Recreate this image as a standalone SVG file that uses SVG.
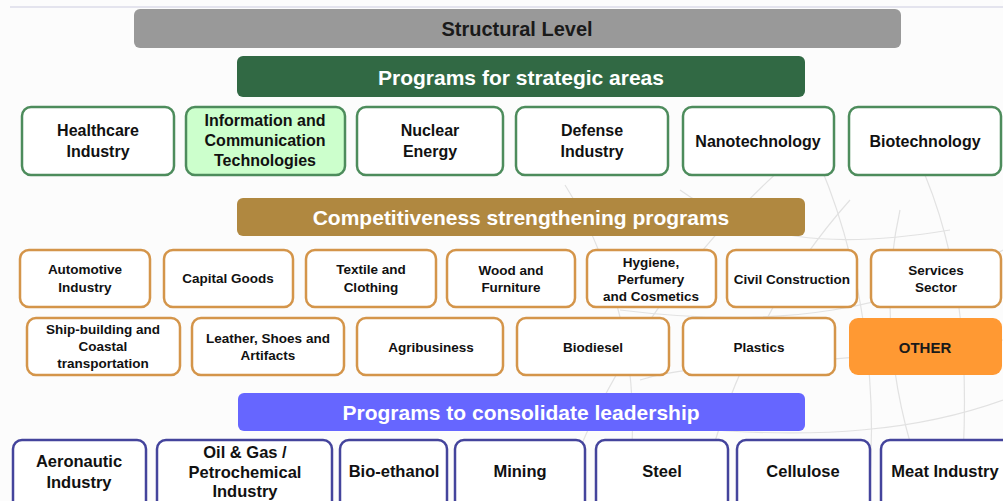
<svg xmlns="http://www.w3.org/2000/svg" width="1003" height="501" viewBox="0 0 1003 501">
<style>
.t{font-family:"Liberation Sans",Arial,sans-serif;font-weight:bold;text-anchor:middle;dominant-baseline:central}
.bar{font-size:21px;fill:#ffffff}
.g{fill:#ffffff;stroke:#4d8c5c;stroke-width:2.5}
.o{fill:#ffffff;stroke:#d4954a;stroke-width:2.5}
.b{fill:#ffffff;stroke:#44449c;stroke-width:2.5}
.l1{font-size:16px;fill:#111}
.l2{font-size:13.5px;fill:#111}
.l3{font-size:16.5px;fill:#111}
.wm{fill:none;stroke:#e2e2e2;stroke-width:1.2}
</style>
<rect x="0" y="0" width="1003" height="501" fill="#fcfcfc"/>
<line x1="10" y1="7" x2="1003" y2="7" stroke="#dcdcea" stroke-width="1.5"/>
<g id="watermark">
<path class="wm" d="M560,501 C600,380 680,260 780,170"/>
<path class="wm" d="M700,501 C720,400 770,290 850,200"/>
<path class="wm" d="M1003,250 C900,310 780,330 620,310"/>
<path class="wm" d="M1003,400 C920,430 820,440 690,428"/>
<path class="wm" d="M820,165 C860,260 880,380 868,501"/>
<path class="wm" d="M925,175 C960,260 972,360 960,501"/>
<path class="wm" d="M565,185 C625,280 645,400 625,501"/>
<path class="wm" d="M680,190 C750,240 830,250 950,230"/>
<path class="wm" d="M900,210 C880,300 890,400 930,501"/>
<path class="wm" d="M640,380 C700,360 800,370 1003,340"/>
</g>
<g id="structural-level">
<rect x="134" y="9" width="767" height="39" rx="6" fill="#999999"/>
<text class="t" x="517" y="29" font-size="20" fill="#1a1a1a">Structural Level</text>
</g>
<g id="strategic-header">
<rect x="237" y="56" width="568" height="41" rx="6" fill="#316944"/>
<text class="t bar" x="521" y="77">Programs for strategic areas</text>
</g>
<g id="healthcare"><rect class="g" x="22" y="107" width="152" height="68" rx="9"/><text class="t l1" x="98" y="130">Healthcare</text><text class="t l1" x="98" y="151">Industry</text></g>
<g id="ict"><rect class="g" x="186" y="107" width="159" height="68" rx="9" style="fill:#ccffcc"/><text class="t l1" x="265" y="120">Information and</text><text class="t l1" x="265" y="140">Communication</text><text class="t l1" x="265" y="160">Technologies</text></g>
<g id="nuclear"><rect class="g" x="357" y="107" width="146" height="68" rx="9"/><text class="t l1" x="430" y="130">Nuclear</text><text class="t l1" x="430" y="151">Energy</text></g>
<g id="defense"><rect class="g" x="516" y="107" width="152" height="68" rx="9"/><text class="t l1" x="592" y="130">Defense</text><text class="t l1" x="592" y="151">Industry</text></g>
<g id="nanotech"><rect class="g" x="683" y="107" width="151" height="68" rx="9"/><text class="t l1" x="758" y="141">Nanotechnology</text></g>
<g id="biotech"><rect class="g" x="849" y="107" width="152" height="68" rx="9"/><text class="t l1" x="925" y="141">Biotechnology</text></g>
<g id="competitiveness-header">
<rect x="237" y="198" width="568" height="38" rx="6" fill="#b08840"/>
<text class="t bar" x="521" y="217">Competitiveness strengthening programs</text>
</g>
<g id="automotive"><rect class="o" x="20" y="250" width="130" height="57" rx="9"/><text class="t l2" x="85" y="269">Automotive</text><text class="t l2" x="85" y="287">Industry</text></g>
<g id="capital-goods"><rect class="o" x="164" y="250" width="129" height="57" rx="9"/><text class="t l2" x="228" y="278">Capital Goods</text></g>
<g id="textile"><rect class="o" x="306" y="250" width="130" height="57" rx="9"/><text class="t l2" x="371" y="269">Textile and</text><text class="t l2" x="371" y="287">Clothing</text></g>
<g id="wood"><rect class="o" x="447" y="250" width="128" height="57" rx="9"/><text class="t l2" x="511" y="270">Wood and</text><text class="t l2" x="511" y="287">Furniture</text></g>
<g id="hygiene"><rect class="o" x="587" y="250" width="129" height="57" rx="9"/><text class="t l2" x="651" y="262">Hygiene,</text><text class="t l2" x="651" y="279">Perfumery</text><text class="t l2" x="651" y="296">and Cosmetics</text></g>
<g id="civil"><rect class="o" x="727" y="250" width="130" height="57" rx="9"/><text class="t l2" x="792" y="279">Civil Construction</text></g>
<g id="services"><rect class="o" x="871" y="250" width="130" height="57" rx="9"/><text class="t l2" x="936" y="270">Services</text><text class="t l2" x="936" y="287">Sector</text></g>
<g id="shipbuilding"><rect class="o" x="27" y="318" width="153" height="57" rx="9"/><text class="t l2" x="103" y="329">Ship-building and</text><text class="t l2" x="103" y="346">Coastal</text><text class="t l2" x="103" y="363">transportation</text></g>
<g id="leather"><rect class="o" x="192" y="318" width="152" height="57" rx="9"/><text class="t l2" x="268" y="338">Leather, Shoes and</text><text class="t l2" x="268" y="355">Artifacts</text></g>
<g id="agribusiness"><rect class="o" x="357" y="318" width="146" height="57" rx="9"/><text class="t l2" x="431" y="347">Agribusiness</text></g>
<g id="biodiesel"><rect class="o" x="517" y="318" width="152" height="57" rx="9"/><text class="t l2" x="593" y="347">Biodiesel</text></g>
<g id="plastics"><rect class="o" x="683" y="318" width="152" height="57" rx="9"/><text class="t l2" x="759" y="347">Plastics</text></g>
<g id="other"><rect x="849" y="318" width="153" height="57" rx="9" fill="#ff9933"/><text class="t" x="925" y="347" font-size="15" fill="#1a1a1a">OTHER</text></g>
<g id="leadership-header">
<rect x="238" y="393" width="567" height="38" rx="6" fill="#6666ff"/>
<text class="t bar" x="521" y="412">Programs to consolidate leadership</text>
</g>
<g id="aeronautic"><rect class="b" x="13" y="440" width="133" height="70" rx="9"/><text class="t l3" x="79" y="461">Aeronautic</text><text class="t l3" x="79" y="482">Industry</text></g>
<g id="oilgas"><rect class="b" x="157" y="440" width="175" height="70" rx="9"/><text class="t l3" x="245" y="452">Oil &amp; Gas /</text><text class="t l3" x="245" y="472">Petrochemical</text><text class="t l3" x="245" y="491">Industry</text></g>
<g id="bioethanol"><rect class="b" x="340" y="440" width="107" height="70" rx="9"/><text class="t l3" x="394" y="471">Bio-ethanol</text></g>
<g id="mining"><rect class="b" x="455" y="440" width="130" height="70" rx="9"/><text class="t l3" x="520" y="471">Mining</text></g>
<g id="steel"><rect class="b" x="596" y="440" width="132" height="70" rx="9"/><text class="t l3" x="662" y="471">Steel</text></g>
<g id="cellulose"><rect class="b" x="737" y="440" width="133" height="70" rx="9"/><text class="t l3" x="803" y="471">Cellulose</text></g>
<g id="meat"><rect class="b" x="881" y="440" width="130" height="70" rx="9"/><text class="t l3" x="945" y="471">Meat Industry</text></g>
<g id="connectors"/>
</svg>
